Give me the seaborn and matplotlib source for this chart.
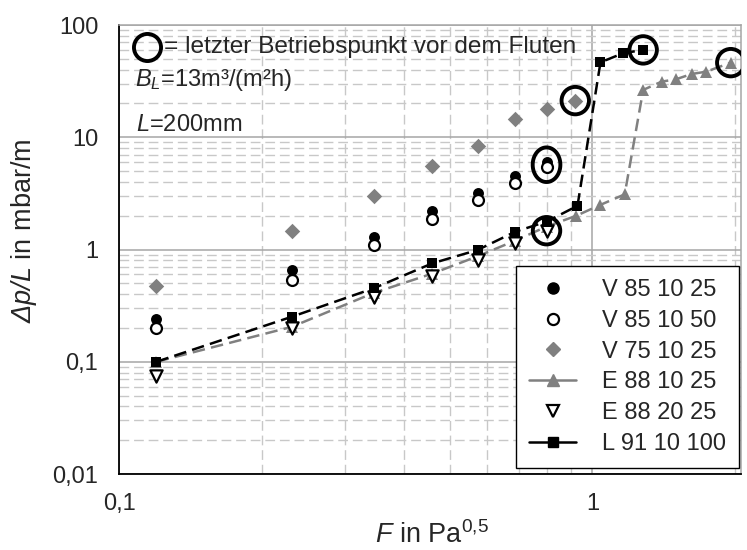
import numpy as np
import pandas as pd
import seaborn as sns
import matplotlib
matplotlib.use("Agg")
import matplotlib.pyplot as plt
from matplotlib.lines import Line2D
from matplotlib.path import Path
from matplotlib.ticker import FixedLocator, FuncFormatter, NullFormatter

# F-factor (Pa^0.5) and specific pressure drop (mbar/m) per packing
F_V = [0.12, 0.232, 0.345, 0.459, 0.572, 0.687, 0.80]
V85_10_25 = [0.24, 0.66, 1.30, 2.2, 3.2, 4.5, 6.0]
V85_10_50 = [0.20, 0.54, 1.10, 1.86, 2.76, 3.94, 5.4]

F_V75 = [0.12, 0.232, 0.345, 0.459, 0.572, 0.687, 0.80, 0.92]
V75_10_25 = [0.475, 1.46, 3.0, 5.55, 8.4, 14.5, 17.7, 21.2]

F_E2 = [0.12, 0.232, 0.345, 0.459, 0.572, 0.687, 0.80]
E88_20_25 = [0.074, 0.20, 0.38, 0.58, 0.81, 1.15, 1.47]

F_E1 = [0.12, 0.232, 0.345, 0.459, 0.572, 0.687, 0.80, 0.925,
        1.04, 1.17, 1.28, 1.40, 1.50, 1.62, 1.74, 1.96]
E88_10_25 = [0.10, 0.205, 0.41, 0.61, 0.87, 1.2, 1.6, 2.0,
             2.5, 3.1, 26.4, 31.3, 32.8, 36.6, 38.4, 46.2]

F_L = [0.12, 0.232, 0.345, 0.459, 0.572, 0.687, 0.80, 0.93, 1.04, 1.16, 1.28]
L91_10_100 = [0.10, 0.252, 0.451, 0.753, 0.99, 1.44, 1.77, 2.45, 46.5, 56, 60]

labels = ["V 85 10 25", "V 85 10 50", "V 75 10 25", "E 88 10 25", "E 88 20 25", "L 91 10 100"]

GRAY = "#808080"

sns.set_style("white")
plt.rcParams["font.family"] = ["Liberation Sans", "DejaVu Sans"]
plt.rcParams["mathtext.fontset"] = "custom"
plt.rcParams["mathtext.rm"] = "Liberation Sans"
plt.rcParams["mathtext.it"] = "Liberation Sans:italic"
plt.rcParams["mathtext.sf"] = "Liberation Sans:italic"

fig = plt.figure(figsize=(7.47, 5.5), dpi=100)
ax = fig.add_axes([119 / 747, 1 - 474 / 550, 622 / 747, 449 / 550])
ax.set_xscale("log")
ax.set_yscale("log")

# measurement series
sns.scatterplot(x=F_V, y=V85_10_25, marker="o", s=62, color="black",
                edgecolor="black", linewidth=0, ax=ax, zorder=3, legend=False)
sns.scatterplot(x=F_V, y=V85_10_50, marker="o", s=62, facecolor="white",
                edgecolor="black", linewidth=1.6, ax=ax, zorder=3.1, legend=False)
sns.scatterplot(x=F_V75, y=V75_10_25, marker="D", s=62, color=GRAY,
                edgecolor=GRAY, linewidth=0, ax=ax, zorder=3, legend=False)
sns.lineplot(x=F_E1, y=E88_10_25, color=GRAY, lw=1.8, linestyle=(0, (5, 2.5)),
             marker="^", markersize=9, markeredgewidth=0, sort=False,
             errorbar=None, ax=ax, zorder=3.2, legend=False)
sns.scatterplot(x=F_E2, y=E88_20_25, marker="v", s=78, facecolor="white",
                edgecolor="black", linewidth=1.6, ax=ax, zorder=3.3, legend=False)
sns.lineplot(x=F_L, y=L91_10_100, color="black", lw=1.8, linestyle=(0, (5, 2.5)),
             marker="s", markersize=7.2, markeredgewidth=0, sort=False,
             errorbar=None, ax=ax, zorder=3.4, legend=False)

# last operating point before flooding
ring = dict(facecolor="none", edgecolor="black", linewidth=2.8, legend=False, zorder=4)
flood_x = [F_E2[-1], F_V75[-1], F_L[-1], F_E1[-1]]
flood_y = [E88_20_25[-1], V75_10_25[-1], L91_10_100[-1], E88_10_25[-1]]
sns.scatterplot(x=flood_x, y=flood_y, marker="o", s=390, ax=ax, **ring)
t = np.linspace(0, 2 * np.pi, 80)
oval = Path(np.column_stack([0.8 * np.cos(t), np.sin(t)]), closed=True)
sns.scatterplot(x=[F_V[-1]], y=[np.sqrt(V85_10_25[-1] * V85_10_50[-1])],
                marker=oval, s=620, ax=ax, **ring)

# axes, ticks and grid
ax.set_xlim(0.1, 2.06)
ax.set_ylim(0.01, 100)
ax.xaxis.set_major_locator(FixedLocator([0.1, 1]))
ax.xaxis.set_minor_locator(FixedLocator([0.2, 0.3, 0.4, 0.5, 0.6, 0.7, 0.8, 0.9, 2]))
ax.yaxis.set_major_locator(FixedLocator([0.01, 0.1, 1, 10, 100]))
ax.yaxis.set_minor_locator(FixedLocator(
    [m * 10.0 ** e for e in range(-2, 2) for m in range(2, 10)]))
comma = FuncFormatter(lambda v, p: f"{v:g}".replace(".", ","))
ax.xaxis.set_major_formatter(comma)
ax.yaxis.set_major_formatter(comma)
ax.xaxis.set_minor_formatter(NullFormatter())
ax.yaxis.set_minor_formatter(NullFormatter())
ax.tick_params(which="major", direction="out", length=6, width=1.2,
               color="black", labelsize=17, pad=9)
ax.tick_params(axis="x", which="major", pad=8)
ax.tick_params(which="minor", length=0)
ax.grid(which="major", color="#a6a6a6", lw=1.1, ls="-")
ax.grid(which="minor", color="#c8c8c8", lw=1.0, ls=(0, (7, 3.5)))
ax.set_axisbelow(True)
for s in ("left", "bottom"):
    ax.spines[s].set_color("black")
    ax.spines[s].set_linewidth(1.3)
for s in ("top", "right"):
    ax.spines[s].set_color("#a6a6a6")
    ax.spines[s].set_linewidth(1.1)

ax.set_xlabel(r"$\mathit{F}$ in Pa$^{0{,}5}$", fontsize=19.5)
ax.set_ylabel(r"$\mathsf{Δp/L}$ in mbar/m", fontsize=19.5)
ax.xaxis.set_label_coords(0.503, -0.105)
ax.yaxis.set_label_coords(-0.128, 0.543)

# notes in the upper left corner
ax.plot([0.045], [0.951], transform=ax.transAxes, marker="o", ms=19.5,
        mfc="none", mec="black", mew=2.8, ls="none", zorder=5)
ax.text(0.073, 0.951, "= letzter Betriebspunkt vor dem Fluten", transform=ax.transAxes,
        fontsize=17.6, va="center", ha="left")
ax.text(0.026, 0.877, r"$\mathit{B}_{\mathit{L}}$=13m³/(m²h)", transform=ax.transAxes,
        fontsize=17, va="center", ha="left")
ax.text(0.028, 0.777, r"$\mathit{L}$=200mm", transform=ax.transAxes,
        fontsize=17, va="center", ha="left")

# legend
handles = [
    Line2D([], [], ls="none", marker="o", ms=8, mfc="black", mec="black"),
    Line2D([], [], ls="none", marker="o", ms=8, mfc="white", mec="black", mew=1.6),
    Line2D([], [], ls="none", marker="D", ms=7, mfc=GRAY, mec=GRAY),
    Line2D([], [], color=GRAY, lw=1.8, marker="^", ms=9, mec=GRAY),
    Line2D([], [], ls="none", marker="v", ms=8.5, mfc="white", mec="black", mew=1.6),
    Line2D([], [], color="black", lw=1.8, marker="s", ms=7),
]
leg = ax.legend(handles, labels, loc="upper right", bbox_to_anchor=(0.997, 0.463),
                borderaxespad=0, fontsize=17, frameon=True, fancybox=False,
                framealpha=1, edgecolor="black", borderpad=0.55, labelspacing=0.37,
                handlelength=2.0, handletextpad=1.1)
leg.get_frame().set_linewidth(1.0)
leg.set_zorder(6)

fig.savefig("out.png", dpi=100)
